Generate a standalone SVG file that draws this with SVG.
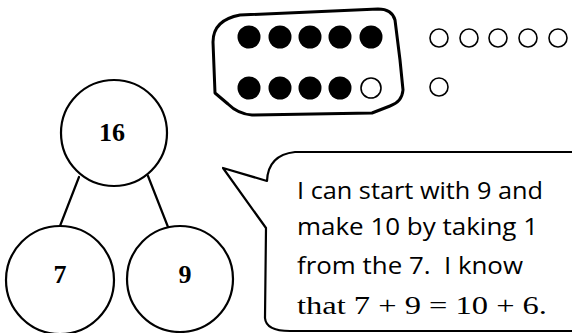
<svg xmlns="http://www.w3.org/2000/svg" width="572" height="333" viewBox="0 0 572 333">
<style>
.ln{fill:none;stroke:#000;stroke-width:2.2;stroke-linejoin:round;stroke-linecap:round}
.node{fill:#fff;stroke:#000;stroke-width:2.2}
.num{font-family:"Liberation Serif","DejaVu Serif",serif;font-weight:bold;font-size:26px;text-anchor:middle;fill:#000}
.dot{fill:#000}
.open{fill:#fff;stroke:#000;stroke-width:1.6}
.say{font-family:"Open Sans","Noto Sans",sans-serif;font-size:24px;fill:#000;white-space:pre}
.math{font-family:"Liberation Serif","DejaVu Serif",serif;font-size:26px;fill:#000;white-space:pre}
</style>
<rect width="572" height="333" fill="#fff"/>
<g id="connectors">
<line class="ln" x1="79" y1="177" x2="60" y2="226"/>
<line class="ln" x1="148" y1="176" x2="168" y2="227"/>
</g>
<g id="node-16">
<circle class="node" cx="114" cy="133" r="53"/>
<text class="num" x="112" y="141">16</text>
</g>
<g id="node-7">
<circle class="node" cx="60" cy="280" r="54"/>
<text class="num" x="60" y="283">7</text>
</g>
<g id="node-9">
<circle class="node" cx="180" cy="279" r="53"/>
<text class="num" x="185" y="283">9</text>
</g>
<g id="ten-frame">
<path class="ln" style="stroke-width:3" d="M240,15 L378,9 Q392,9 395,20 L400,60 L403,90 Q402,102 390,106 L372,113 L252,115 Q238,114 228,104 L215,93 L213,42 Q213,20 240,15 Z"/>
<circle class="dot" cx="249" cy="37" r="11.5"/>
<circle class="dot" cx="280" cy="37" r="11.5"/>
<circle class="dot" cx="310" cy="37" r="11.5"/>
<circle class="dot" cx="340" cy="37" r="11.5"/>
<circle class="dot" cx="371" cy="37" r="11.5"/>
<circle class="dot" cx="249" cy="88" r="11.5"/>
<circle class="dot" cx="280" cy="88" r="11.5"/>
<circle class="dot" cx="310" cy="88" r="11.5"/>
<circle class="dot" cx="340" cy="88" r="11.5"/>
<circle class="open" cx="371" cy="88" r="10"/>
</g>
<g id="extra-dots">
<circle class="open" cx="439" cy="38" r="9"/>
<circle class="open" cx="469" cy="38" r="9"/>
<circle class="open" cx="498" cy="38" r="9"/>
<circle class="open" cx="528" cy="38" r="9"/>
<circle class="open" cx="558" cy="38" r="9"/>
<circle class="open" cx="439" cy="87" r="9"/>
</g>
<g id="speech-bubble">
<path class="ln" d="M580,152 L295,152 Q268,155 267,181 L223,168 L266,228 L265,318 Q266,331 290,331 L580,331"/>
<text class="say" x="297" y="199" textLength="246" lengthAdjust="spacingAndGlyphs">I can start with 9 and</text>
<text class="say" x="297" y="235" textLength="241" lengthAdjust="spacingAndGlyphs">make 10 by taking 1</text>
<text class="say" x="297" y="274" textLength="226" lengthAdjust="spacingAndGlyphs">from the 7.  I know</text>
<text class="math" x="297" y="314" textLength="250" lengthAdjust="spacingAndGlyphs">that 7 + 9 = 10 + 6.</text>
</g>
</svg>
